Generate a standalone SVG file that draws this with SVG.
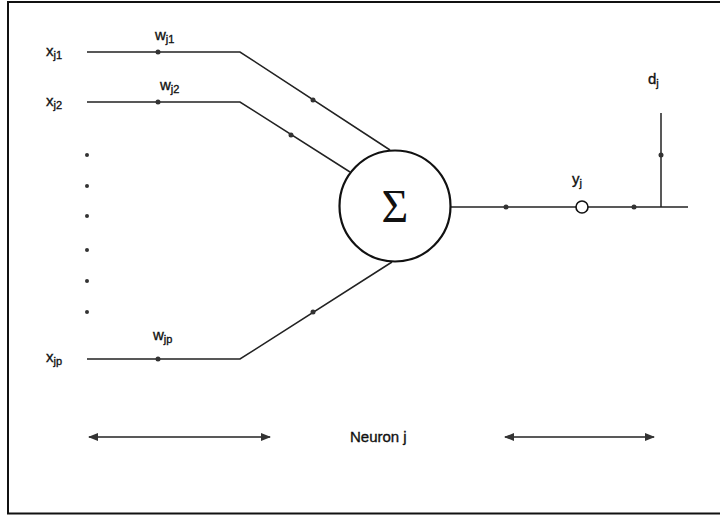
<svg xmlns="http://www.w3.org/2000/svg" width="720" height="517" viewBox="0 0 720 517">
<defs>
<style>
.ln{stroke:#222;stroke-width:1.5;fill:none}
.dot{fill:#333}
.lbl{font-family:"Liberation Sans",Arial,sans-serif;font-size:15px;fill:#111;stroke:#111;stroke-width:0.35}
.sub{font-size:11px}
</style>
<marker id="ah" viewBox="0 0 10 10" refX="9" refY="5" markerWidth="7" markerHeight="7" orient="auto-start-reverse"><path d="M0,1 L10,5 L0,9 z" fill="#333"/></marker>
</defs>
<rect x="0" y="0" width="720" height="517" fill="#fff"/>
<path d="M720,2 H8 V513.5 H720" fill="none" stroke="#111" stroke-width="2"/>
<g id="connectors">
<polyline class="ln" points="87,52 240,52 390,150"/>
<polyline class="ln" points="87,102 240,102 350,172"/>
<polyline class="ln" points="87,359 240,359 392,262"/>
<line class="ln" x1="451" y1="207" x2="576" y2="207"/>
<line class="ln" x1="588" y1="207" x2="688" y2="207"/>
<line class="ln" x1="661" y1="113" x2="661" y2="207"/>
<circle class="dot" cx="158" cy="52" r="2.5"/>
<circle class="dot" cx="158" cy="102" r="2.5"/>
<circle class="dot" cx="158" cy="359" r="2.5"/>
<circle class="dot" cx="313" cy="100" r="2.5"/>
<circle class="dot" cx="291" cy="135" r="2.5"/>
<circle class="dot" cx="313" cy="312" r="2.5"/>
<circle class="dot" cx="506" cy="207" r="2.5"/>
<circle class="dot" cx="634" cy="207" r="2.5"/>
<circle class="dot" cx="661" cy="155" r="2.5"/>
<line class="ln" x1="89" y1="437" x2="270" y2="437" marker-start="url(#ah)" marker-end="url(#ah)"/>
<line class="ln" x1="505" y1="437" x2="654" y2="437" marker-start="url(#ah)" marker-end="url(#ah)"/>
</g>
<g id="dots">
<circle class="dot" cx="87" cy="155" r="2"/>
<circle class="dot" cx="87" cy="186" r="2"/>
<circle class="dot" cx="87" cy="216" r="2"/>
<circle class="dot" cx="87" cy="250" r="2"/>
<circle class="dot" cx="87" cy="281" r="2"/>
<circle class="dot" cx="87" cy="312" r="2"/>
</g>
<g id="sum">
<circle cx="395" cy="206" r="55.5" fill="none" stroke="#111" stroke-width="2.2"/>
<text x="395" y="222" text-anchor="middle" font-family="Liberation Serif,serif" font-size="46" fill="#111">Σ</text>
</g>
<g id="output">
<circle cx="582" cy="207" r="6" fill="#fff" stroke="#111" stroke-width="1.6"/>
<text class="lbl" x="572" y="184">y<tspan class="sub" dy="3">j</tspan></text>
</g>
<g id="target"><text class="lbl" x="648" y="84">d<tspan class="sub" dy="3">j</tspan></text></g>
<g id="x1"><text class="lbl" x="46" y="56">x<tspan class="sub" dy="3">j1</tspan></text></g>
<g id="x2"><text class="lbl" x="46" y="106">x<tspan class="sub" dy="3">j2</tspan></text></g>
<g id="xp"><text class="lbl" x="46" y="362">x<tspan class="sub" dy="3">jp</tspan></text></g>
<g id="w1"><text class="lbl" x="155" y="40">w<tspan class="sub" dy="3">j1</tspan></text></g>
<g id="w2"><text class="lbl" x="160" y="90">w<tspan class="sub" dy="3">j2</tspan></text></g>
<g id="wp"><text class="lbl" x="153" y="340">w<tspan class="sub" dy="3">jp</tspan></text></g>
<g id="neuron"><text class="lbl" x="350" y="442">Neuron j</text></g>
</svg>
